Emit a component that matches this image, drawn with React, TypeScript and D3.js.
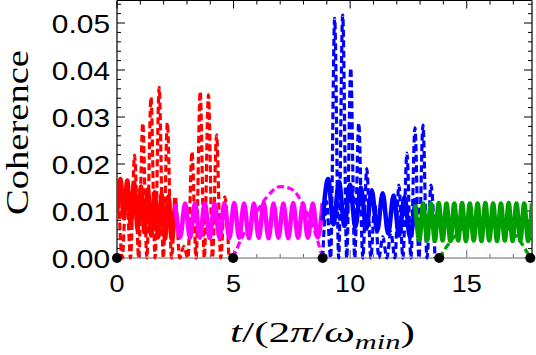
import { useEffect, useRef } from "react";
import * as d3 from "d3";

// time in units of 2π/ω_min, coherence on the vertical axis
const xTicks = [0, 5, 10, 15];
const yTicks = [0, 0.01, 0.02, 0.03, 0.04, 0.05];
const yTickLabels = ["0.00", "0.01", "0.02", "0.03", "0.04", "0.05"];
const nodeTimes = [0, 4.98, 8.82, 13.82, 17.73];

// fast oscillations: successive maxima / minima, spread evenly over the span
const redSolidSpan = [0, 2.5];
const redSolid = [0.0095, 0.0168, 0.0085, 0.0165, 0.0072, 0.016, 0.0062, 0.0152, 0.0055, 0.0146, 0.0048, 0.014, 0.0044, 0.0135, 0.0041, 0.0131, 0.004, 0.0128];

const magentaSolidSpan = [2.5, 8.82];
const magentaSolid = [0.0115, 0.0044, 0.0116, 0.0043, 0.0116, 0.0043, 0.0117, 0.0042, 0.0116, 0.0043, 0.0116, 0.0042, 0.0117, 0.0043, 0.0116, 0.0042, 0.0116, 0.0043, 0.0117, 0.0042, 0.0116, 0.0043, 0.0116, 0.0042, 0.0117, 0.0043, 0.0116, 0.0043, 0.0116, 0.0044, 0.0117];

const blueSolidSpan = [8.82, 12.8];
const blueSolid = [0.008, 0.0168, 0.0072, 0.0162, 0.0068, 0.0156, 0.0066, 0.015, 0.0062, 0.0144, 0.0058, 0.0138, 0.0052, 0.0133, 0.0048, 0.013, 0.0045, 0.0127];

const greenSolidSpan = [12.8, 17.8];
const greenSolid = [0.0114, 0.0038, 0.0116, 0.0037, 0.0116, 0.0036, 0.0117, 0.0037, 0.0116, 0.0036, 0.0116, 0.0037, 0.0117, 0.0036, 0.0116, 0.0037, 0.0116, 0.0036, 0.0117, 0.0037, 0.0116, 0.0036, 0.0116, 0.0037, 0.0117, 0.0036, 0.0116, 0.0037, 0.0116, 0.0036, 0.0116];

const redDashedSpan = [0.05, 4.8];
const redDashed = [0.0165, 0, 0.0155, 0, 0.0219, 0, 0.0287, 0, 0.0342, 0, 0.0363, 0, 0.0288, 0, 0.012, 0, 0.0025, 0, 0.0226, 0, 0.0354, 0, 0.0347, 0, 0.0262, 0, 0.013, 0];

const blueDashedSpan = [8.82, 13.64];
const blueDashed = [0, 0.012, 0, 0.051, 0, 0.0517, 0, 0.0404, 0, 0.0287, 0, 0.019, 0, 0.0115, 0, 0.0045, 0, 0.0055, 0, 0.0155, 0, 0.0223, 0, 0.0277, 0, 0.0283, 0, 0.0155, 0];

// slow arches between the marked instants
const magentaArchT = [4.98, 5.4, 5.9, 6.4, 7.0, 7.5, 8.0, 8.4, 8.82];
const magentaArchV = [0, 0.0048, 0.009, 0.0128, 0.0152, 0.0146, 0.0112, 0.0068, 0];
const greenArchT = [13.82, 14.3, 14.8, 15.4, 15.9, 16.4, 16.9, 17.3, 17.73];
const greenArchV = [0, 0.0035, 0.0062, 0.008, 0.0084, 0.0078, 0.0058, 0.0035, 0];

const spread = (vals: number[], span: number[]): [number, number][] =>
  vals.map((v, i) => [span[0] + (i * (span[1] - span[0])) / (vals.length - 1), v]);
const zip = (ts: number[], vs: number[]): [number, number][] => ts.map((t, i) => [t, vs[i]]);

export default function App() {
  const svgRef = useRef<SVGSVGElement>(null);

  useEffect(() => {
    const el = svgRef.current;
    if (!el) return;
    d3.select(el).selectAll("*").remove();
    const svg = d3.select(el);

    const L = 117, R = 532, T = 0.5, B = 258;
    const x = d3.scaleLinear().domain([0, 17.8]).range([L, R]);
    const y = d3.scaleLinear().domain([0, 0.0549]).range([B, 0]);
    const sx = 1.15; // text is a bit wide

    svg.append("defs").append("clipPath").attr("id", "plotClip")
      .append("rect").attr("x", L).attr("y", 0).attr("width", R - L).attr("height", B + 2);

    // frame
    svg.append("line").attr("x1", L).attr("x2", L).attr("y1", T).attr("y2", B).attr("stroke", "#000").attr("stroke-width", 1.2);
    svg.append("line").attr("x1", R).attr("x2", R).attr("y1", T).attr("y2", B).attr("stroke", "#000").attr("stroke-width", 1.2);
    svg.append("line").attr("x1", L).attr("x2", R).attr("y1", T).attr("y2", T).attr("stroke", "#000").attr("stroke-width", 1.2);

    const yMinor = d3.range(0, 0.0549, 0.002);
    const xMinor = d3.range(0, 17.8, 1);
    const ticks = svg.append("g").attr("stroke", "#000").attr("stroke-width", 1);
    yMinor.forEach((v) => {
      const major = yTicks.some((t) => Math.abs(t - v) < 1e-9);
      const len = major ? 8 : 4;
      ticks.append("line").attr("x1", L).attr("x2", L + len).attr("y1", y(v)).attr("y2", y(v));
      ticks.append("line").attr("x1", R).attr("x2", R - len).attr("y1", y(v)).attr("y2", y(v));
    });
    xMinor.forEach((v) => {
      const major = xTicks.includes(v);
      const len = major ? 8 : 4;
      ticks.append("line").attr("x1", x(v)).attr("x2", x(v)).attr("y1", T).attr("y2", T + len);
      ticks.append("line").attr("x1", x(v)).attr("x2", x(v)).attr("y1", B).attr("y2", B - len).attr("stroke", "#666");
    });

    // y = 0 axis
    svg.append("line").attr("x1", L).attr("x2", R).attr("y1", B).attr("y2", B).attr("stroke", "#999").attr("stroke-width", 1.5);

    const line = d3.line<[number, number]>().x((d) => x(d[0])).y((d) => y(d[1])).curve(d3.curveMonotoneX);
    const plot = svg.append("g").attr("clip-path", "url(#plotClip)");

    const dashed: [[number, number][], string][] = [
      [spread(redDashed, redDashedSpan), "#ff0000"],
      [zip(magentaArchT, magentaArchV), "#ff00ff"],
      [spread(blueDashed, blueDashedSpan), "#0000ff"],
      [zip(greenArchT, greenArchV), "#00a000"],
    ];
    dashed.forEach(([pts, c]) => {
      plot.append("path").attr("d", line(pts)).attr("fill", "none").attr("stroke", c)
        .attr("stroke-width", 3.2).attr("stroke-dasharray", "7,3.5");
    });

    const solid: [[number, number][], string][] = [
      [spread(redSolid, redSolidSpan), "#ff0000"],
      [spread(magentaSolid, magentaSolidSpan), "#ff00ff"],
      [spread(blueSolid, blueSolidSpan), "#0000ff"],
      [spread(greenSolid, greenSolidSpan), "#00a000"],
    ];
    solid.forEach(([pts, c]) => {
      plot.append("path").attr("d", line(pts)).attr("fill", "none").attr("stroke", c)
        .attr("stroke-width", 4.5).attr("stroke-linejoin", "round");
    });

    svg.append("g").selectAll("circle").data(nodeTimes).join("circle")
      .attr("cx", (d) => x(d)).attr("cy", y(0)).attr("r", 5).attr("fill", "#000");

    // tick labels
    const sans = "'Liberation Sans', Arial, sans-serif";
    yTicks.forEach((v, i) => {
      svg.append("text").attr("transform", `translate(110,${y(v) + 10}) scale(${sx},1)`)
        .attr("text-anchor", "end").attr("font-family", sans).attr("font-size", 26).text(yTickLabels[i]);
    });
    xTicks.forEach((v) => {
      svg.append("text").attr("transform", `translate(${x(v)},292) scale(${sx},1)`)
        .attr("text-anchor", "middle").attr("font-family", sans).attr("font-size", 23.5).text(String(v));
    });

    // axis titles
    const serif = "'Liberation Serif', 'Times New Roman', serif";
    const yt = svg.append("text").attr("font-family", serif).attr("font-size", 31).text("Coherence");
    const yb = (yt.node() as SVGTextElement).getBBox();
    yt.attr("transform", `translate(28,215) rotate(-90) scale(${165 / yb.width},1) translate(${-yb.x},0)`);

    const xt = svg.append("text").attr("font-family", serif).attr("font-size", 30);
    xt.append("tspan").attr("font-style", "italic").text("t");
    xt.append("tspan").text("/(2");
    xt.append("tspan").attr("font-style", "italic").text("π");
    xt.append("tspan").text("/");
    xt.append("tspan").attr("font-style", "italic").text("ω");
    xt.append("tspan").attr("font-style", "italic").attr("font-size", 21).attr("dy", 7).text("min");
    xt.append("tspan").attr("dy", -7).text(")");
    const xb = (xt.node() as SVGTextElement).getBBox();
    xt.attr("transform", `translate(230,342) scale(${185 / xb.width},1) translate(${-xb.x},0)`);
  }, []);

  return (
    <svg ref={svgRef} width={536} height={355}
      style={{ position: "absolute", left: 0, top: 0, background: "#fff" }} />
  );
}
